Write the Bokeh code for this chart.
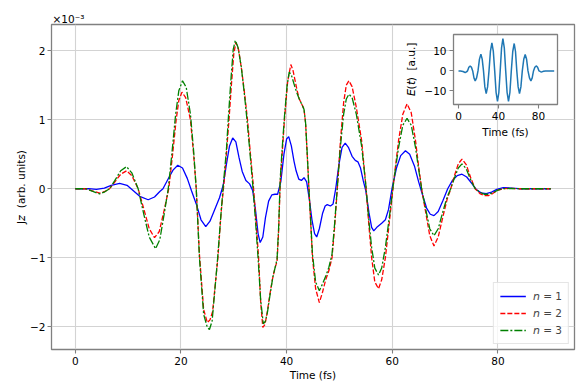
from bokeh.plotting import figure
from bokeh.layouts import column
from bokeh.models import Range1d, FixedTicker
from bokeh.embed import file_html
from bokeh.resources import INLINE

# ---------------- data ----------------
series_labels = ["𝘯 = 1", "𝘯 = 2", "𝘯 = 3"]
x_ticks = [0, 20, 40, 60, 80]
y_ticks = [-2, -1, 0, 1, 2]
y_tick_labels = {-2: "−2", -1: "−1", 0: "0", 1: "1", 2: "2"}
y_scale_text = "×10⁻³"
x_label = "Time (fs)"
y_label = "J𝘻\u00a0 (arb. units)"

# n = 1  (J_z in units of 1e-3)
t_n1 = [0, 2.5, 4.0, 5.5, 6.8, 8.4, 9.8, 11.0, 12.2, 13.8, 15.0, 16.0, 16.6, 17.5, 18.5,
        19.4, 20.3, 21.2, 22.0, 22.9, 23.8, 24.7, 25.5, 26.4, 27.3, 28.0, 28.6, 29.2, 29.8,
        30.4, 31.0, 31.6, 32.3, 33.0, 33.6, 34.1, 34.6, 35.0, 35.5, 36.0, 36.6, 37.2, 37.8,
        38.3, 38.9, 39.5, 40.0, 40.4, 40.9, 41.4, 41.8, 42.3, 42.8, 43.3, 43.8, 44.3, 44.8,
        45.3, 45.7, 46.2, 46.8, 47.3, 47.7, 48.3, 48.8, 49.3, 49.9, 50.5, 51.1, 51.7, 52.4,
        53.0, 53.5, 54.0, 54.5, 55.0, 55.6, 56.1, 56.5, 57.2, 58.0, 58.7, 59.3, 60.0, 60.8,
        61.6, 62.5, 63.3, 64.2, 65.0, 65.7, 66.5, 67.2, 67.9, 68.7, 69.6, 70.5, 71.4, 72.3,
        73.2, 74.1, 75.0, 75.9, 76.8, 77.8, 78.8, 79.8, 81.0, 82.5, 84.0, 90.0]
j_n1 = [0, 0.0, -0.01, 0.01, 0.05, 0.077, 0.05, -0.03, -0.11, -0.16, -0.12, -0.04, 0.0, 0.13, 0.27,
        0.34, 0.30, 0.15, -0.03, -0.22, -0.45, -0.55, -0.47, -0.30, -0.13, 0.05, 0.35, 0.62, 0.735,
        0.68, 0.45, 0.25, 0.12, 0.07, -0.03, -0.30, -0.65, -0.78, -0.70, -0.42, -0.18, -0.09, -0.08,
        -0.08, 0.10, 0.50, 0.72, 0.755, 0.62, 0.40, 0.26, 0.14, 0.12, 0.16, 0.10, -0.15, -0.45,
        -0.65, -0.70, -0.58, -0.36, -0.25, -0.23, -0.25, -0.22, 0.0, 0.35, 0.60, 0.66, 0.60, 0.47,
        0.41, 0.39, 0.30, 0.12, -0.03, -0.35, -0.56, -0.61, -0.55, -0.50, -0.45, -0.30, 0.02, 0.30,
        0.48, 0.55, 0.50, 0.33, 0.10, -0.08, -0.28, -0.37, -0.39, -0.33, -0.17, 0.0, 0.12, 0.19,
        0.21, 0.17, 0.08, -0.01, -0.06, -0.07, -0.05, -0.01, 0.015, 0.01, 0.0, 0.0]

# n = 2
t_n2 = [0, 2.0, 3.2, 4.6, 5.6, 6.5, 7.5, 8.6, 9.7, 10.7, 11.9, 13.0, 14.0, 15.0, 15.9, 16.8,
        17.7, 18.4, 19.1, 19.6, 20.2, 20.9, 21.8, 22.4, 22.9, 23.5, 24.3, 25.0, 25.5, 26.0,
        27.0, 27.6, 28.2, 28.6, 29.1, 29.6, 30.0, 30.4, 30.9, 31.5, 32.1, 32.6, 33.1, 33.7,
        34.2, 34.7, 35.1, 35.5, 35.9, 36.3, 36.8, 37.3, 37.8, 38.2, 38.5, 38.8, 39.2, 39.6,
        40.2, 40.8, 41.2, 41.6, 42.0, 42.4, 42.9, 43.3, 43.6, 43.9, 44.2, 44.6, 44.9, 45.5,
        46.2, 46.8, 47.4, 48.0, 48.6, 49.1, 49.6, 50.2, 50.8, 51.3, 51.8, 52.4, 53.2, 54.2,
        55.0, 55.6, 56.1, 56.7, 57.4, 58.0, 58.7, 59.5, 60.3, 61.2, 62.0, 62.8, 63.6, 64.4,
        65.0, 65.6, 66.4, 67.1, 67.9, 68.7, 69.7, 70.4, 71.0, 71.7, 72.5, 73.2, 74.0, 74.9,
        75.7, 76.6, 77.4, 78.2, 79.0, 80.0, 81.0, 82.5, 84.0, 90.0]
j_n2 = [0, 0, -0.03, -0.065, -0.04, 0.0, 0.10, 0.21, 0.26, 0.19, 0.0, -0.30, -0.58, -0.71, -0.62, -0.32,
        0.0, 0.48, 1.0, 1.28, 1.40, 1.32, 1.0, 0.50, 0.0, -0.95, -1.75, -1.94, -1.90, -1.78,
        -1.0, -0.35, 0.12, 0.50, 1.0, 1.55, 1.95, 2.12, 2.02, 1.72, 1.35, 1.0, 0.55, 0.05,
        -0.45, -1.0, -1.65, -2.01, -1.97, -1.81, -1.55, -1.32, -1.15, -1.05, -0.60, 0.10, 0.55, 1.0,
        1.55, 1.80, 1.72, 1.57, 1.42, 1.30, 1.22, 1.155, 0.95, 0.50, 0.05, -0.55, -1.0, -1.45,
        -1.65, -1.50, -1.32, -1.19, -1.0, -0.55, 0.0, 0.70, 1.25, 1.50, 1.565, 1.48, 1.18, 0.70,
        0.05, -0.55, -1.0, -1.35, -1.45, -1.32, -1.0, -0.45, 0.12, 0.70, 1.08, 1.23, 1.10, 0.70,
        0.32, -0.02, -0.37, -0.68, -0.83, -0.70, -0.37, -0.15, -0.02, 0.17, 0.36, 0.43, 0.35, 0.15,
        0.0, -0.07, -0.10, -0.10, -0.07, -0.02, 0.0, 0.005, 0.0, 0.0]

# n = 3
t_n3 = [0, 2.0, 3.2, 4.6, 5.6, 6.5, 7.5, 8.6, 9.7, 10.7, 11.9, 13.0, 14.0, 15.2, 16.0, 16.8,
        17.6, 18.3, 19.0, 19.6, 20.3, 21.0, 21.8, 22.4, 22.9, 23.5, 24.3, 25.0, 25.4, 25.9,
        26.9, 27.6, 28.1, 28.6, 29.0, 29.5, 29.9, 30.3, 30.8, 31.4, 32.0, 32.5, 33.0, 33.6,
        34.1, 34.6, 35.1, 35.6, 36.0, 36.4, 36.9, 37.4, 37.9, 38.2, 38.5, 38.8, 39.2, 39.6,
        40.1, 40.5, 40.9, 41.4, 41.9, 42.4, 42.9, 43.3, 43.6, 43.9, 44.2, 44.6, 44.9, 45.5,
        46.2, 46.8, 47.4, 48.0, 48.6, 49.1, 49.6, 50.2, 50.8, 51.3, 51.8, 52.4, 53.2, 54.2,
        55.0, 55.6, 56.1, 56.7, 57.4, 58.0, 58.7, 59.5, 60.3, 61.2, 62.0, 62.8, 63.6, 64.4,
        65.0, 65.6, 66.4, 67.1, 67.9, 68.7, 69.7, 70.4, 71.0, 71.7, 72.5, 73.2, 74.0, 74.9,
        75.7, 76.6, 77.4, 78.2, 79.0, 80.0, 81.0, 82.5, 84.0, 90.0]
j_n3 = [0, 0, -0.035, -0.075, -0.045, 0.0, 0.12, 0.26, 0.32, 0.23, 0.0, -0.38, -0.70, -0.87, -0.74, -0.38,
        0.0, 0.52, 1.08, 1.42, 1.565, 1.47, 1.08, 0.55, 0.0, -1.0, -1.82, -2.01, -2.04, -1.92,
        -1.05, -0.35, 0.12, 0.55, 1.05, 1.62, 2.02, 2.15, 2.05, 1.78, 1.38, 1.0, 0.58, 0.05,
        -0.45, -1.0, -1.62, -1.96, -1.92, -1.78, -1.52, -1.28, -1.12, -1.02, -0.55, 0.15, 0.62, 1.05,
        1.50, 1.69, 1.65, 1.52, 1.40, 1.30, 1.22, 1.15, 0.95, 0.52, 0.05, -0.52, -0.95, -1.35,
        -1.48, -1.38, -1.27, -1.14, -0.95, -0.50, 0.02, 0.62, 1.08, 1.30, 1.37, 1.32, 1.08, 0.62,
        0.05, -0.48, -0.85, -1.15, -1.25, -1.15, -0.85, -0.38, 0.12, 0.60, 0.92, 1.02, 0.92, 0.60,
        0.28, -0.02, -0.32, -0.58, -0.68, -0.58, -0.30, -0.12, -0.01, 0.14, 0.30, 0.36, 0.29, 0.12,
        0.0, -0.05, -0.08, -0.08, -0.06, -0.02, 0.0, 0.005, 0.0, 0.0]

# inset: E(t)
inset_x_ticks = [0, 40, 80]
inset_y_ticks = [-10, 0, 10]
inset_y_tick_labels = {-10: "−10", 0: "0", 10: "10"}
inset_x_label = "Time (fs)"
inset_y_label = "𝘌(𝘵)\u00a0 [a.u.]"
t_E = [0, 2.0, 4.5, 6.7, 8.0, 9.0, 10.35, 11.7, 12.95, 14.2, 15.45, 16.7, 18.1, 19.5, 20.95,
       22.4, 23.7, 25.0, 26.35, 27.7, 29.1, 30.5, 31.95, 33.4, 34.8, 36.2, 37.6, 39.0, 40.35,
       41.7, 43.05, 44.4, 45.8, 47.2, 48.6, 50.0, 51.4, 52.8, 54.25, 55.7, 57.0, 58.3, 59.65,
       61.0, 62.4, 63.8, 65.25, 66.7, 68.1, 69.5, 70.95, 72.4, 73.7, 75.0, 76.35, 77.7, 79.1,
       80.5, 82.0, 83.4, 85.0, 87.0, 95.7]
E_t = [0, 0, -0.3, -0.8, -0.5, 0, 1.8, 2.5, 1.8, 0, -3.5, -5.0, -3.5, 0, 5.9,
       8.3, 5.9, 0, -8.0, -11.3, -8.0, 0, 9.9, 14.0, 9.9, 0, -10.8, -15.2, -10.8,
       0, 11.5, 16.2, 11.5, 0, -10.8, -15.2, -10.8, 0, 9.7, 13.7, 9.7, 0, -8.0,
       -11.3, -8.0, 0, 5.8, 8.2, 5.8, 0, -3.5, -5.0, -3.5, 0, 1.8, 2.5, 1.8,
       0, -0.4, -0.5, -0.2, 0, 0]

# ---------------- styling ----------------
FONT = "DejaVu Sans"
FS = "10.5px"
SPINE = "#808080"
GRID = "#d3d3d3"


def style_axes(fig):
    fig.outline_line_color = SPINE
    fig.outline_line_width = 1.3
    fig.background_fill_color = "white"
    fig.border_fill_color = "white"
    for ax in fig.axis:
        ax.axis_line_color = None
        ax.major_tick_line_color = SPINE
        ax.major_tick_line_width = 1.1
        ax.major_tick_out = 4
        ax.major_tick_in = 0
        ax.minor_tick_line_color = None
        ax.major_label_text_font = FONT
        ax.major_label_text_font_size = FS
        ax.major_label_text_color = "black"
        ax.major_label_standoff = 3
        ax.axis_label_text_font = FONT
        ax.axis_label_text_font_size = FS
        ax.axis_label_text_font_style = "normal"
        ax.axis_label_text_color = "black"


# ---------------- main figure ----------------
p = figure(width=581, height=388, output_backend="svg", toolbar_location=None,
           title=y_scale_text,
           x_range=Range1d(-4.5, 94.5), y_range=Range1d(-2.33, 2.38),
           min_border_left=48, min_border_right=7, min_border_top=24, min_border_bottom=39)
style_axes(p)
p.title.align = "left"
p.title.offset = 1
p.title.standoff = 0
p.title.text_font = FONT
p.title.text_font_size = FS
p.title.text_font_style = "normal"
p.title.text_color = "black"
p.xaxis.axis_label = x_label
p.xaxis.axis_label_standoff = 1
p.yaxis.axis_label = y_label
p.yaxis.axis_label_standoff = 0
p.yaxis.major_label_standoff = 2
p.xaxis.ticker = FixedTicker(ticks=x_ticks)
p.yaxis.ticker = FixedTicker(ticks=y_ticks)
p.yaxis.major_label_overrides = y_tick_labels
p.xgrid.ticker = FixedTicker(ticks=x_ticks)
p.ygrid.ticker = FixedTicker(ticks=y_ticks)
p.grid.grid_line_color = GRID
p.grid.grid_line_width = 1.1

p.line(t_n1, j_n1, line_color="#0000ff", line_width=1.3, legend_label=series_labels[0])
p.line(t_n2, j_n2, line_color="#ff0000", line_width=1.3, line_dash="5 2",
       legend_label=series_labels[1])
p.line(t_n3, j_n3, line_color="#008000", line_width=1.3, line_dash="8 2 2 2",
       legend_label=series_labels[2])

lg = p.legend[0]
lg.location = "bottom_right"
lg.margin = 5
lg.padding = 6
lg.spacing = 3
lg.glyph_width = 26
lg.glyph_height = 14
lg.label_height = 14
lg.label_standoff = 7
lg.label_text_font = FONT
lg.label_text_font_size = FS
lg.border_line_color = "#cccccc"
lg.border_line_width = 1
lg.background_fill_alpha = 0.8

# ---------------- inset ----------------
p2 = figure(width=162, height=110, output_backend="svg", toolbar_location=None,
            x_range=Range1d(-5, 99), y_range=Range1d(-16.8, 18.2),
            min_border_left=51, min_border_right=3, min_border_top=2, min_border_bottom=38)
style_axes(p2)
p2.border_fill_alpha = 0          # only the axes box is opaque, like a matplotlib inset
p2.grid.grid_line_color = None
p2.xaxis.ticker = FixedTicker(ticks=inset_x_ticks)
p2.yaxis.ticker = FixedTicker(ticks=inset_y_ticks)
p2.yaxis.major_label_overrides = inset_y_tick_labels
p2.xaxis.axis_label = inset_x_label
p2.yaxis.axis_label = inset_y_label
p2.xaxis.axis_label_standoff = 3
p2.yaxis.axis_label_standoff = 4
p2.line(t_E, E_t, line_color="#1f77b4", line_width=1.5)
p2.styles = {"position": "absolute", "left": "402px", "top": "32px", "z-index": "6"}

root = column(p, p2)
root.styles = {"position": "relative"}
p = root
open("out.html", "w").write(file_html(p, INLINE))
